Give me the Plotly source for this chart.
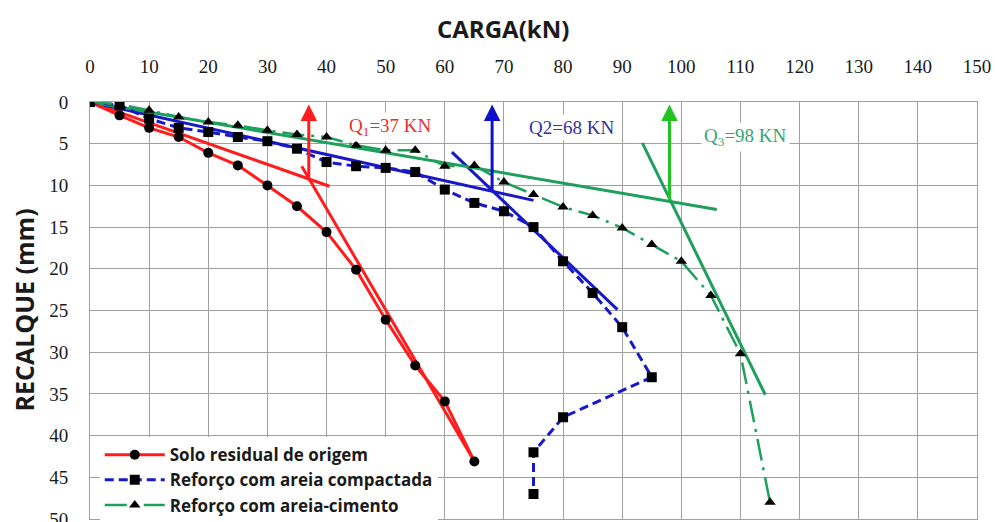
import plotly.graph_objects as go

# ---------------- data ----------------
carga_solo = [0, 5, 10, 15, 20, 25, 30, 35, 40, 45, 50, 55, 60, 65]
recalque_solo = [0, 1.6, 3.1, 4.2, 6.1, 7.6, 10.0, 12.5, 15.6, 20.1, 26.1, 31.6, 35.9, 43.1]

carga_areia = [0, 5, 10, 15, 20, 25, 30, 35, 40, 45, 50, 55, 60, 65, 70, 75, 80, 85, 90, 95, 80, 75, 75]
recalque_areia = [0, 0.4, 2.0, 3.1, 3.6, 4.2, 4.7, 5.6, 7.2, 7.7, 7.9, 8.4, 10.5, 12.1, 13.1, 15.0,
                  19.1, 22.9, 27.0, 33.0, 37.8, 42.0, 47.0]

carga_cimento = [0, 5, 10, 15, 20, 25, 30, 35, 40, 45, 50, 55, 60, 65, 70, 75, 80, 85, 90, 95,
                 100, 105, 110, 115]
recalque_cimento = [0, 0.3, 1.0, 1.8, 2.4, 2.8, 3.4, 3.9, 4.2, 5.2, 5.8, 5.8, 7.7, 7.6, 9.6, 11.1,
                    12.6, 13.6, 15.1, 17.1, 19.1, 23.2, 30.2, 48.0]

# tangent lines (endpoints)
tan_solo_1_x, tan_solo_1_y = [0, 40.5], [0, 10.1]
tan_solo_2_x, tan_solo_2_y = [35.8, 65], [7.7, 43.1]
tan_areia_1_x, tan_areia_1_y = [0, 75], [0, 11.8]
tan_areia_2_x, tan_areia_2_y = [61.2, 89.2], [6.0, 24.9]
tan_cim_1_x, tan_cim_1_y = [0, 106], [0, 12.9]
tan_cim_2_x, tan_cim_2_y = [93.4, 114.2], [4.9, 35.1]

# ultimate loads
q_values = [37, 68, 98]
q_labels = ["Q<sub>1</sub>=37 KN", "Q2=68 KN", "Q<sub>3</sub>=98 KN"]

x_ticks = list(range(0, 151, 10))
y_ticks = list(range(0, 51, 5))

series_names = ["Solo residual de origem", "Reforço com areia compactada", "Reforço com areia-cimento"]

# ---------------- styles ----------------
RED = "#ff1c1c"
BLUE = "#1818c8"
GREEN = "#1f9f5c"
ARROW_GREEN = "#22c422"
Q_TEXT_COLORS = ["#e8302c", "#33339c", "#35a57a"]
ARROW_COLORS = [RED, "#1010c8", ARROW_GREEN]

fig = go.Figure()

def tangent(xs, ys, color):
    fig.add_trace(go.Scatter(x=xs, y=ys, mode="lines", line=dict(color=color, width=3),
                             showlegend=False, hoverinfo="skip"))

tangent(tan_solo_1_x, tan_solo_1_y, RED)
tangent(tan_solo_2_x, tan_solo_2_y, RED)
tangent(tan_areia_1_x, tan_areia_1_y, BLUE)
tangent(tan_areia_2_x, tan_areia_2_y, BLUE)
tangent(tan_cim_1_x, tan_cim_1_y, GREEN)
tangent(tan_cim_2_x, tan_cim_2_y, GREEN)

fig.add_trace(go.Scatter(x=carga_solo, y=recalque_solo, mode="lines+markers", name=series_names[0],
                         line=dict(color=RED, width=3),
                         marker=dict(symbol="circle", size=10, color="black")))
fig.add_trace(go.Scatter(x=carga_areia, y=recalque_areia, mode="lines+markers", name=series_names[1],
                         line=dict(color=BLUE, width=3, dash="9px,5px"),
                         marker=dict(symbol="square", size=10, color="black")))
fig.add_trace(go.Scatter(x=carga_cimento, y=recalque_cimento, mode="lines+markers", name=series_names[2],
                         line=dict(color=GREEN, width=2.5, dash="22px,7px,3px,7px"),
                         marker=dict(symbol="triangle-up", size=10, color="black")))

# intersection of each pair of tangents at the ultimate load -> arrow foot
def y_on(xs, ys, x):
    return ys[0] + (ys[1] - ys[0]) * (x - xs[0]) / (xs[1] - xs[0])

feet = [y_on(tan_solo_1_x, tan_solo_1_y, q_values[0]),
        y_on(tan_areia_1_x, tan_areia_1_y, q_values[1]),
        y_on(tan_cim_1_x, tan_cim_1_y, q_values[2])]

for q, foot, col in zip(q_values, feet, ARROW_COLORS):
    fig.add_annotation(x=q, y=0.3, ax=q, ay=foot, xref="x", yref="y", axref="x", ayref="y",
                       text="", showarrow=True, arrowhead=2, arrowsize=1.1, arrowwidth=3,
                       arrowcolor=col)

label_pos = [(50.8, 3.0), (81.4, 3.1), (110.8, 4.2)]
for (lx, ly), txt, col in zip(label_pos, q_labels, Q_TEXT_COLORS):
    fig.add_annotation(x=lx, y=ly, xref="x", yref="y", text=txt, showarrow=False,
                       font=dict(family="Liberation Serif", size=19, color=col),
                       bgcolor="white", borderpad=2)

# axis titles
fig.add_annotation(x=(503 - 90) / 887, y=(522 - 3 - 28) / 417, xref="paper", yref="paper",
                   yanchor="middle", text="<b>CARGA(kN)</b>", showarrow=False,
                   font=dict(family="Open Sans", size=24, color="#1a1a1a"))
fig.add_annotation(x=-(90 - 23) / 887, y=0.5, xref="paper", yref="paper", text="<b>RECALQUE (mm)</b>",
                   textangle=-90, showarrow=False, xanchor="center", yanchor="middle",
                   font=dict(family="Open Sans", size=25, color="#1a1a1a"))

axis_font = dict(family="Liberation Serif", size=19, color="#1a1a1a")

fig.update_layout(
    width=995, height=522,
    margin=dict(l=90, r=18, t=102, b=3, autoexpand=False),
    paper_bgcolor="white", plot_bgcolor="white",
    xaxis=dict(range=[0, 150], side="top", tickvals=x_ticks, ticktext=[str(v) for v in x_ticks],
               showgrid=True, gridcolor="#a0a0a0", gridwidth=1, zeroline=False,
               showline=True, linecolor="#a0a0a0", mirror=True, automargin=False,
               ticks="outside", ticklen=20, tickcolor="rgba(0,0,0,0)", tickfont=axis_font),
    yaxis=dict(range=[50, 0], tickvals=y_ticks, ticktext=[str(v) for v in y_ticks],
               showgrid=True, gridcolor="#a0a0a0", gridwidth=1, zeroline=False,
               showline=True, linecolor="#a0a0a0", mirror=True, ticklabeloverflow="allow",
               automargin=False,
               ticks="outside", ticklen=17, tickcolor="rgba(0,0,0,0)", tickfont=axis_font),
    legend=dict(x=0.011, y=-0.01, xanchor="left", yanchor="bottom", bgcolor="white",
                font=dict(family="Open Sans", size=17, color="#1a1a1a", weight="bold"),
                itemwidth=60, tracegroupgap=0),
    showlegend=True,
)

fig.write_html("out.html")
